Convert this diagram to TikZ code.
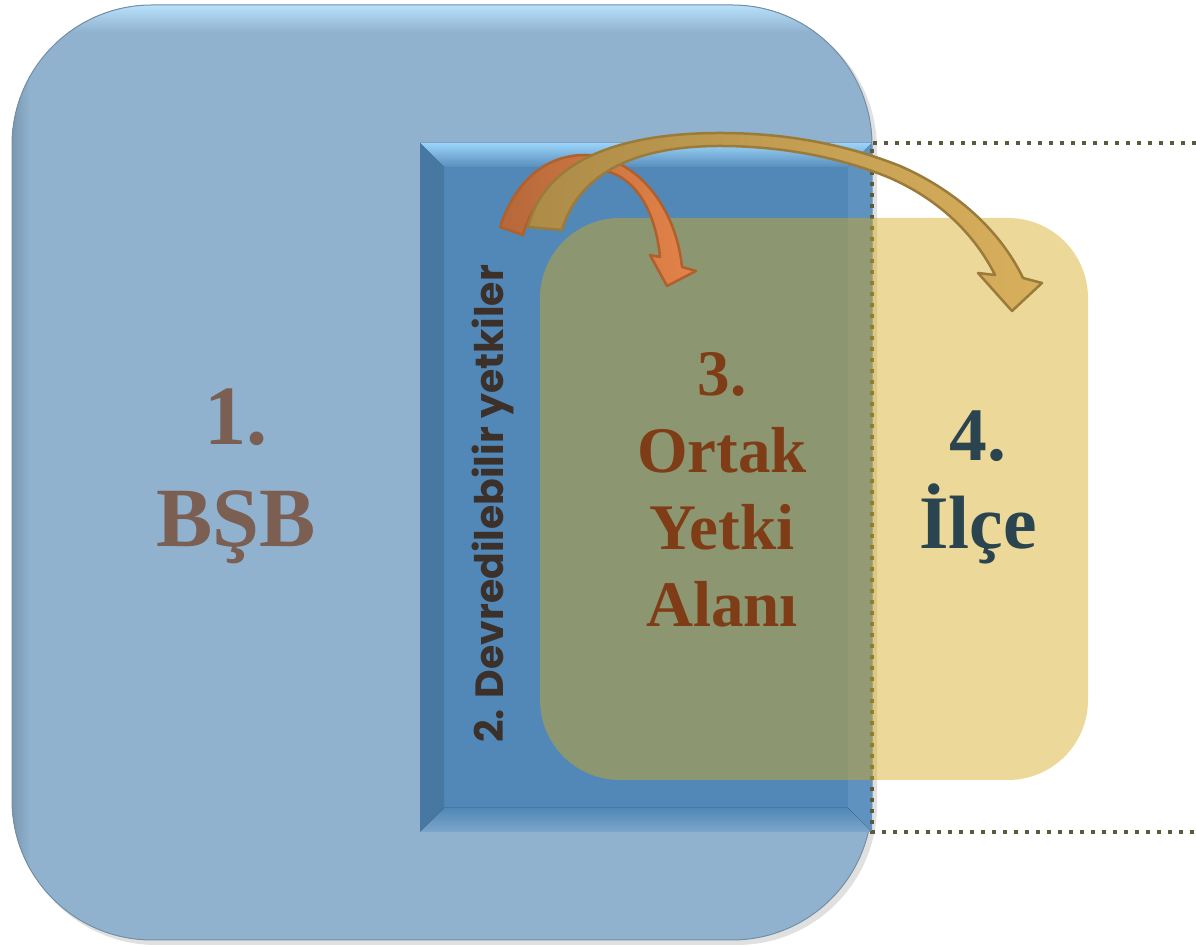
\documentclass[tikz,border=0pt]{standalone}
\usepackage{fontspec}
\setmainfont{Liberation Serif}
\newfontfamily\gothfont{Poppins}
\usepackage{tikz}

\definecolor{bsbblue}{HTML}{90B2CF}
\definecolor{devblue}{HTML}{5188B8}
\definecolor{bevellight}{HTML}{9AD4FA}
\definecolor{ilceyellow}{HTML}{D5A81A}
\definecolor{dotgray}{HTML}{5B5B3B}
\definecolor{bsbtxt}{HTML}{7A5F52}
\definecolor{ortaktxt}{HTML}{7F3D17}
\definecolor{ilcetxt}{HTML}{2A4550}
\definecolor{devtxt}{HTML}{3B302A}
\definecolor{orbord}{HTML}{B0602C}
\definecolor{ordark}{HTML}{B5683A}
\definecolor{orlight}{HTML}{E5834A}
\definecolor{goldbord}{HTML}{9B7B3A}
\definecolor{golddark}{HTML}{AD8C48}
\definecolor{goldlight}{HTML}{D8AF5C}

\begin{document}
\begin{tikzpicture}
  [x=0.1mm,y=-0.1mm,every node/.style={inner sep=0pt,align=center}]
 \tikzset{OrangeArrow/.style={draw=orbord,line width=0.25mm,line join=round,left color=ordark,right color=orlight}}
 \tikzset{GoldArrow/.style={draw=goldbord,line width=0.25mm,line join=round,left color=golddark,right color=goldlight}}
 \tikzset{DotLine/.style={dotgray,line width=0.4mm,dash pattern=on 0.4mm off 0.7mm}}

 \useasboundingbox (0,0) rectangle (1196,947);

 % 1. BSB
 \fill[black!30,opacity=0.4,rounded corners=14mm] (16,9) rectangle (877,945);
 \fill[bsbblue,rounded corners=14mm] (12,5) rectangle (872,940);
 \begin{scope}
  \clip[rounded corners=14mm] (12,5) rectangle (872,940);
  \fill[top color=bevellight!70!white,bottom color=bsbblue] (12,5) rectangle (872,32);
  \fill[left color=bsbblue!85!black,right color=bsbblue] (12,5) rectangle (30,940);
 \end{scope}
 \draw[bsbblue!80!black,line width=0.1mm,rounded corners=14mm] (12,5) rectangle (872,940);

 % 2. devredilebilir
 \fill[devblue] (420,143) rectangle (872,832);
 \fill[top color=bevellight,bottom color=devblue!95!white] (420,143) -- (872,143) -- (848,167) -- (444,167) -- cycle;
 \fill[devblue!88!black] (420,143) -- (444,167) -- (444,808) -- (420,832) -- cycle;
 \fill[devblue!92!white] (872,143) -- (872,832) -- (848,808) -- (848,167) -- cycle;
 \fill[top color=devblue,bottom color=devblue!75!white] (420,832) -- (444,808) -- (848,808) -- (872,832) -- cycle;

 \draw[DotLine] (1196,143) -- (872,143) -- (872,832) -- (1196,832);

 % 4. ilce
 \fill[ilceyellow,opacity=0.45,rounded corners=8mm] (540,218) rectangle (1088,780);

 \node[font=\bfseries\fontsize{24}{29}\selectfont,text=bsbtxt] (bsb) at (236,476) {1.\\BŞB};
 \node[font=\gothfont\bfseries\fontsize{11.2}{14}\selectfont,text=devtxt,rotate=90] (devr) at (493,504) {2. Devredilebilir yetkiler};
 \node[font=\bfseries\fontsize{18.5}{21.9}\selectfont,text=ortaktxt] (ortak) at (722,490) {3.\\Ortak\\Yetki\\Alanı};
 \node[font=\bfseries\fontsize{21.5}{25}\selectfont,text=ilcetxt] (ilce) at (978,487) {4.\\İlçe};

 \coordinate (ortip) at (667,286);
 \coordinate (goldtip) at (1012,311);

 \filldraw[OrangeArrow] (500,227) .. controls (515,182) and (545,155) .. (585,155)
   .. controls (630,155) and (675,200) .. (682,267) -- (696,271) -- (ortip) -- (650,255) -- (660,257)
   .. controls (655,205) and (630,170) .. (595,170) .. controls (560,170) and (532,200) .. (523,235) -- cycle;
 \filldraw[GoldArrow] (528,227) .. controls (545,160) and (620,133) .. (720,133)
   .. controls (790,133) and (850,146) .. (900,166) .. controls (955,190) and (1000,230) .. (1023,278)
   -- (1042,283) -- (goldtip) -- (978,273) -- (995,275)
   .. controls (975,235) and (940,200) .. (890,178) .. controls (840,157) and (780,146) .. (720,146)
   .. controls (640,146) and (580,170) .. (562,230) -- cycle;

\end{tikzpicture}
\end{document}
